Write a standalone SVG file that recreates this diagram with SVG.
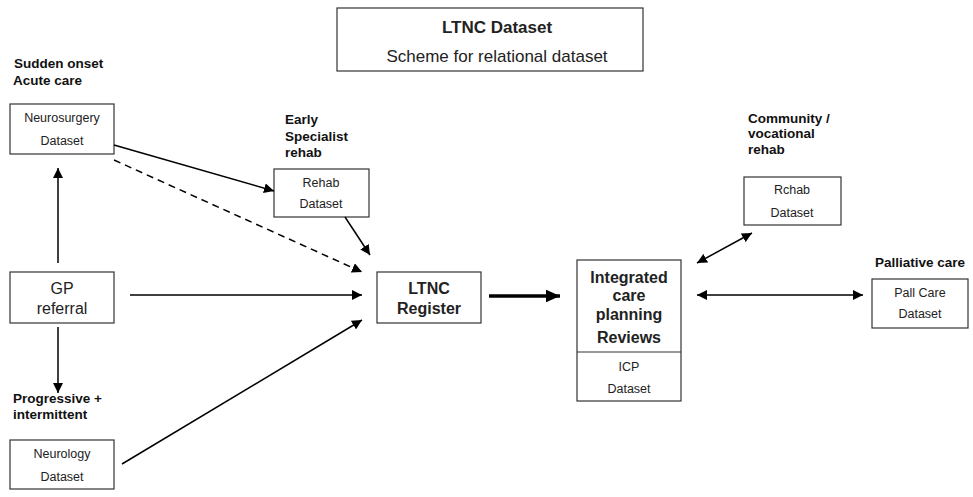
<svg xmlns="http://www.w3.org/2000/svg" width="973" height="497" viewBox="0 0 973 497">
<defs>
<marker id="ah" viewBox="0 0 10 10" refX="10" refY="5" markerWidth="10" markerHeight="10" markerUnits="userSpaceOnUse" orient="auto-start-reverse">
<path d="M0,0 L10,5 L0,10 z" fill="#000"/>
</marker>
<marker id="ahb" viewBox="0 0 10 10" refX="10" refY="5" markerWidth="4" markerHeight="3.6" orient="auto" preserveAspectRatio="none">
<path d="M0,0 L10,5 L0,10 z" fill="#000"/>
</marker>
</defs>
<style>
.box{fill:#fff;stroke:#333;stroke-width:1.2}
.t{font-family:"Liberation Sans",Arial,sans-serif;fill:#222;text-anchor:middle}
.s{font-size:12.5px}
.m{font-size:16px}
.h{font-size:17px}
.b{font-weight:bold}
.lab{font-family:"Liberation Sans",Arial,sans-serif;font-size:13.5px;font-weight:bold;fill:#111}
.c{stroke:#000;stroke-width:1.5;fill:none}
</style>
<rect width="973" height="497" fill="#fff"/>
<g id="title">
<rect class="box" x="337" y="8" width="306" height="63"/>
<text class="t h b" x="497" y="33">LTNC Dataset</text>
<text class="t h" x="497" y="62">Scheme for relational dataset</text>
</g>
<g id="neurosurgery">
<text class="lab" x="14" y="68">Sudden onset</text>
<text class="lab" x="13" y="85">Acute care</text>
<rect class="box" x="10" y="104" width="104" height="50"/>
<text class="t s" x="62" y="122">Neurosurgery</text>
<text class="t s" x="62" y="145">Dataset</text>
</g>
<g id="rehab">
<text class="lab" x="285" y="124">Early</text>
<text class="lab" x="285" y="141">Specialist</text>
<text class="lab" x="285" y="157">rehab</text>
<rect class="box" x="274" y="169" width="95" height="48"/>
<text class="t s" x="321" y="187">Rehab</text>
<text class="t s" x="321" y="208">Dataset</text>
</g>
<g id="gp">
<rect class="box" x="10" y="272" width="104" height="51"/>
<text class="t m" x="62" y="294">GP</text>
<text class="t m" x="62" y="314">referral</text>
</g>
<g id="neurology">
<text class="lab" x="13" y="403">Progressive +</text>
<text class="lab" x="13" y="419">intermittent</text>
<rect class="box" x="10" y="440" width="104" height="49"/>
<text class="t s" x="62" y="458">Neurology</text>
<text class="t s" x="62" y="481">Dataset</text>
</g>
<g id="ltnc">
<rect class="box" x="377" y="272" width="104" height="51"/>
<text class="t m b" x="429" y="294">LTNC</text>
<text class="t m b" x="429" y="314">Register</text>
</g>
<g id="icp">
<rect class="box" x="577" y="260" width="104" height="141"/>
<line x1="577" y1="352" x2="681" y2="352" stroke="#333" stroke-width="1.2"/>
<text class="t m b" x="629" y="283">Integrated</text>
<text class="t m b" x="629" y="301">care</text>
<text class="t m b" x="629" y="320">planning</text>
<text class="t m b" x="629" y="343">Reviews</text>
<text class="t s" x="629" y="371">ICP</text>
<text class="t s" x="629" y="393">Dataset</text>
</g>
<g id="community">
<text class="lab" x="748" y="123">Community /</text>
<text class="lab" x="748" y="138">vocational</text>
<text class="lab" x="748" y="154">rehab</text>
<rect class="box" x="744" y="177" width="97" height="48"/>
<text class="t s" x="792" y="194">Rchab</text>
<text class="t s" x="792" y="217">Dataset</text>
</g>
<g id="palliative">
<text class="lab" x="875" y="267">Palliative care</text>
<rect class="box" x="872" y="279" width="96" height="49"/>
<text class="t s" x="920" y="297">Pall Care</text>
<text class="t s" x="920" y="318">Dataset</text>
</g>
<g id="connectors">
<line class="c" x1="114" y1="145" x2="274" y2="191" marker-end="url(#ah)"/>
<line class="c" x1="114" y1="160" x2="362" y2="272" stroke-dasharray="7,5" marker-end="url(#ah)"/>
<line class="c" x1="345" y1="217" x2="370" y2="255" marker-end="url(#ah)"/>
<line class="c" x1="58" y1="263" x2="58" y2="168" marker-end="url(#ah)"/>
<line class="c" x1="58" y1="327" x2="58" y2="393" marker-end="url(#ah)"/>
<line class="c" x1="130" y1="295" x2="362" y2="295" marker-end="url(#ah)"/>
<line class="c" x1="122" y1="464" x2="362" y2="320" marker-end="url(#ah)"/>
<line x1="489" y1="296" x2="560" y2="296" stroke="#000" stroke-width="3.5" marker-end="url(#ahb)"/>
<line class="c" x1="697" y1="263" x2="752" y2="233" marker-start="url(#ah)" marker-end="url(#ah)"/>
<line class="c" x1="697" y1="295" x2="863" y2="295" marker-start="url(#ah)" marker-end="url(#ah)"/>
</g>
</svg>
